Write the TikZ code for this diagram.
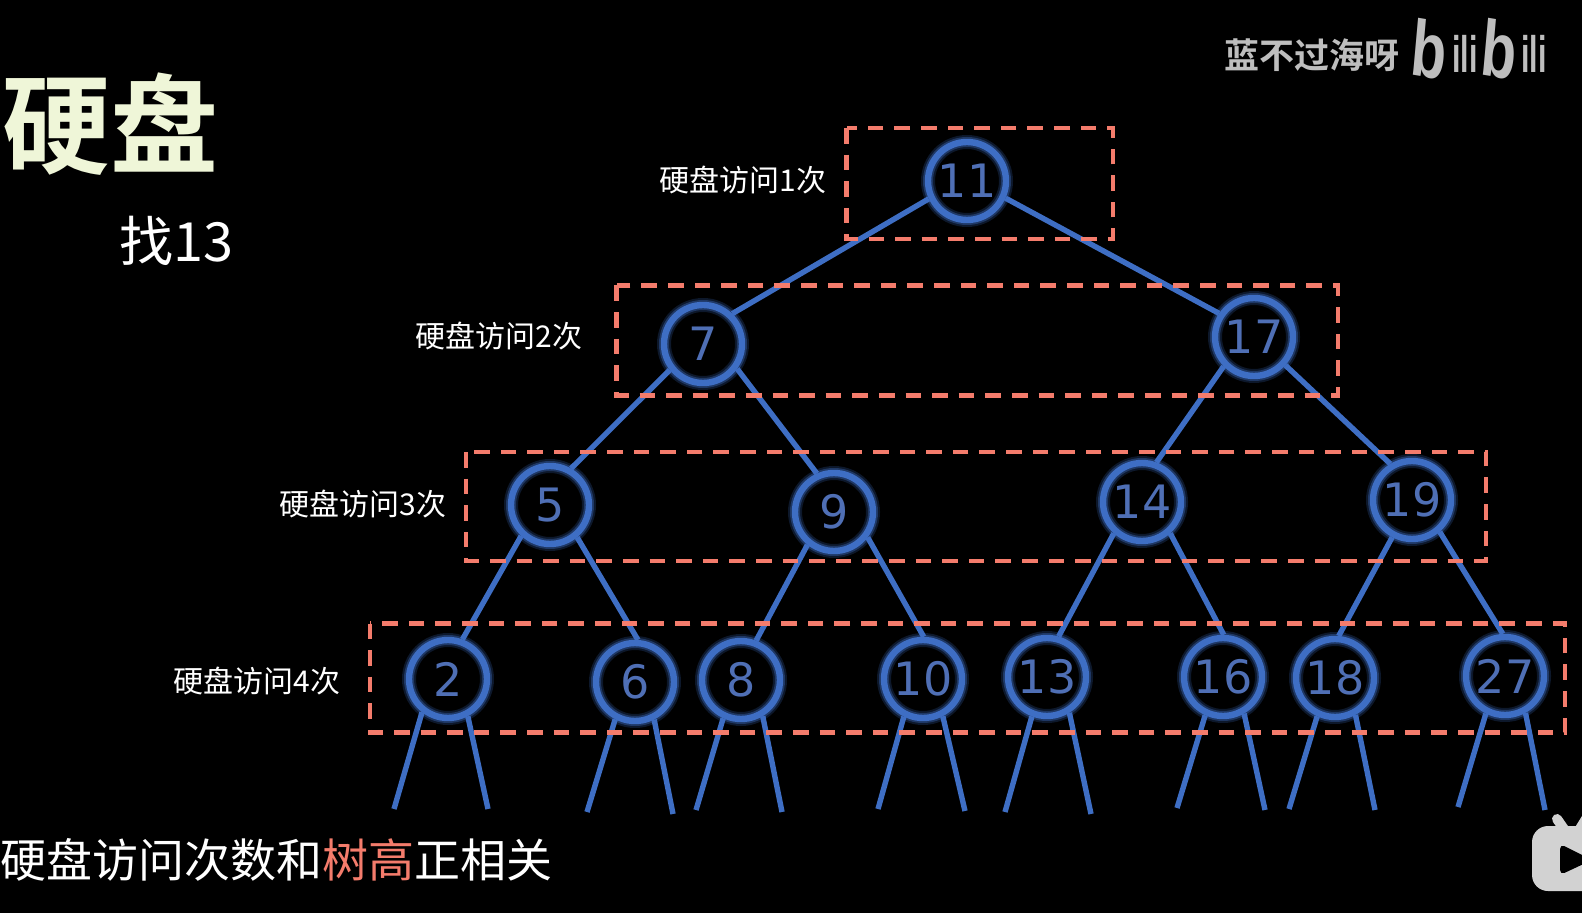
\documentclass[tikz,border=0pt]{standalone}
\usepackage{fontspec}
\setmainfont{Noto Sans CJK SC}
\newfontfamily\cjkbold[BoldFont={Noto Sans CJK SC Bold}]{Noto Sans CJK SC}
\newfontfamily\numfont{DejaVu Sans}
\newfontfamily\logofont{Liberation Sans}
\definecolor{treeblue}{HTML}{3E6EC4}
\definecolor{numblue}{HTML}{4F6FB5}
\definecolor{dashred}{HTML}{F47C6C}
\definecolor{titlegreen}{HTML}{EFF6D8}
\definecolor{markgray}{HTML}{BEBEBE}
\definecolor{tvgray}{HTML}{D2D2D2}
\tikzset{
  treenode/.style={circle,minimum size=39pt,inner sep=0pt,draw=treeblue,line width=3.2pt,
    text=numblue,font=\numfont\fontsize{23}{23}\selectfont,
    preaction={draw=treeblue,draw opacity=0.22,line width=7pt},
    preaction={draw=treeblue,draw opacity=0.38,line width=5pt}},
  treeedge/.style={draw=treeblue,line width=2.7pt},
  levelbox/.style={draw=dashred,line width=2.3pt,dash pattern=on 7.8pt off 5.5pt},
  hint/.style={text=white,font=\fontsize{15}{15}\selectfont,inner sep=0pt},
  logotext/.style={text=markgray,inner sep=0pt}
}
\begin{document}
\begin{tikzpicture}[x=0.5pt,y=-0.5pt]
\useasboundingbox (0,0) rectangle (1582,913);
\fill[black] (0,0) rectangle (1582,913);
% nodes
\node[treenode] (n11) at (967,181) {11};
\node[treenode] (n7) at (703,344) {7};
\node[treenode] (n17) at (1254,337) {17};
\node[treenode] (n5) at (550,505) {5};
\node[treenode] (n9) at (834,512) {9};
\node[treenode] (n14) at (1142,502) {14};
\node[treenode] (n19) at (1412,500) {19};
\node[treenode] (n2) at (448,679) {2};
\node[treenode] (n6) at (635,682) {6};
\node[treenode] (n8) at (741,680) {8};
\node[treenode] (n10) at (923,679) {10};
\node[treenode] (n13) at (1047,677) {13};
\node[treenode] (n16) at (1223,677) {16};
\node[treenode] (n18) at (1335,678) {18};
\node[treenode] (n27) at (1505,676) {27};
% free ends
\foreach \n/\a/\b/\c/\d in {
  2/394/809/488/809, 6/587/812/673/814, 8/696/810/782/812, 10/878/809/965/811,
  13/1005/812/1091/814, 16/1177/808/1265/810, 18/1289/809/1375/810, 27/1458/807/1545/810}{
  \coordinate (l\n) at (\a,\b);
  \coordinate (r\n) at (\c,\d);
}
% connectors
\foreach \p/\s/\q/\e in {11/205/7/46, 11/-24/17/146, 7/218/5/60, 7/-36/9/114,
  17/224/14/70, 17/-42/19/121, 5/227/2/70, 5/-50/6/86, 9/231/8/69, 9/-37/10/89,
  14/228/13/74, 14/-48/16/89, 19/242/18/85, 19/-49/27/93}
  \draw[treeedge] (n\p.\s) -- (n\q.\e);
\foreach \n/\s/\e in {2/232/-62, 6/242/-63, 8/245/-59, 10/243/-62, 13/249/-58, 16/245/-60, 18/245/-61, 27/243/-61}{
  \draw[treeedge] (n\n.\s) -- (l\n);
  \draw[treeedge] (n\n.\e) -- (r\n);
}
% level boxes
\draw[levelbox] (846.5,128) rectangle (1113,239);
\draw[levelbox] (616.5,285.5) rectangle (1338,395.5);
\draw[levelbox] (466,452) rectangle (1486,561);
\draw[levelbox] (370,623.5) rectangle (1565,732.5);
% labels
\node[hint] (h1) at (743,180) {硬盘访问1次};
\node[hint] (h2) at (499,336) {硬盘访问2次};
\node[hint] (h3) at (363,504) {硬盘访问3次};
\node[hint] (h4) at (257,681) {硬盘访问4次};
\node[inner sep=0pt,text=titlegreen,font=\cjkbold\bfseries\fontsize{54}{54}\selectfont] (title) at (111,124) {硬盘};
\node[inner sep=0pt,text=white,font=\fontsize{27}{27}\selectfont] (find) at (176,241) {找13};
\node[inner sep=0pt,text=white,font=\fontsize{23}{23}\selectfont,anchor=west] (note) at (0.5,860) {硬盘访问次数和\textcolor{dashred}{树高}正相关};
% watermark
\node[logotext,font=\cjkbold\bfseries\fontsize{17.5}{17.5}\selectfont] (mark) at (1312,55) {蓝不过海呀};
\node[logotext,font=\logofont\bfseries\fontsize{36}{36}\selectfont,xscale=0.8,yscale=1.1,rotate=-7] (b1) at (1429,49) {b};
\node[logotext,font=\logofont\bfseries\fontsize{19}{19}\selectfont,xscale=0.8,yscale=1.35] (i1) at (1465,54) {ili};
\node[logotext,font=\logofont\bfseries\fontsize{36}{36}\selectfont,xscale=0.8,yscale=1.1,rotate=-7] (b2) at (1499,49) {b};
\node[logotext,font=\logofont\bfseries\fontsize{19}{19}\selectfont,xscale=0.8,yscale=1.35] (i2) at (1534,54) {ili};
% player icon
\begin{scope}
\clip (0,0) rectangle (1582,913);
\draw[tvgray,line width=5pt,line cap=round] (1557,819) -- (1566,832);
\draw[tvgray,line width=5pt,line cap=round] (1586,819) -- (1578,832);
\fill[tvgray,rounded corners=8pt] (1532,826) rectangle (1620,891);
\fill[black,rounded corners=2.5pt] (1560,844) -- (1560,875) -- (1592,860) -- cycle;
\end{scope}
\end{tikzpicture}
\end{document}
